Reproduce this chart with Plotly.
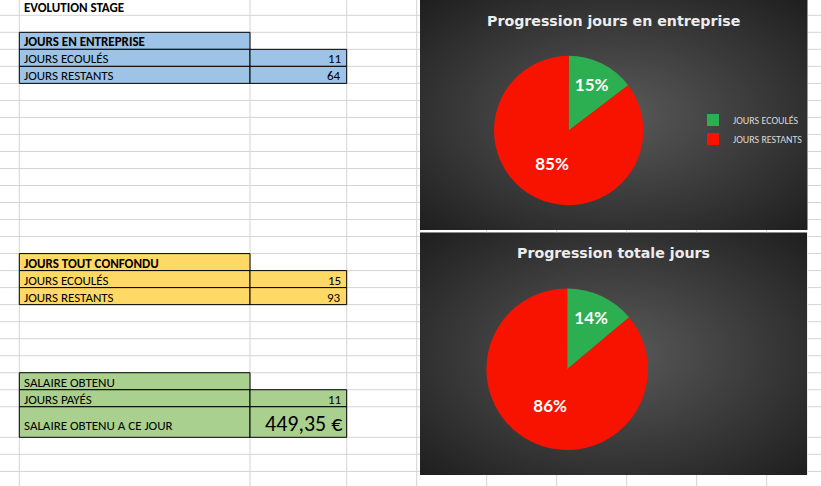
import base64
import plotly.graph_objects as go

W, H = 821, 486

# ---------------- data ----------------
categories = ["JOURS ECOULÉS", "JOURS RESTANTS"]
jours_entreprise = [11, 64]
jours_total = [15, 93]
jours_payes = 11
salaire_obtenu = "449,35 €"
sheet_title = "EVOLUTION STAGE"
table_headers = ["JOURS EN ENTREPRISE", "JOURS TOUT CONFONDU", "SALAIRE OBTENU"]
row_labels_paye = ["JOURS PAYÉS", "SALAIRE OBTENU A CE JOUR"]
chart_titles = ["Progression jours en entreprise", "Progression totale jours"]
slice_colors = ["#2BAF51", "#F81300"]

SHEET_FONT = "Carlito, 'Liberation Sans Narrow', 'Arial Narrow', Lato, sans-serif"
GRID = "#D4D4D4"
FS = 13


def px(x):
    return x / W


def py(y):
    return 1 - y / H


shapes = []
annotations = []
images = []

# chart boxes (pixel coordinates)
C1 = (420, 0, 807.7, 230)
C2 = (420, 232.3, 807.3, 475)

# ---------------- spreadsheet grid ----------------
ROW0, STEP = 15.3, 17.02
row_lines = [ROW0 + STEP * k for k in range(24)] + [437.3, 454.3, 471.4]
col_lines = [19.3, 250, 346.7, 416.7, 486.7, 556.7, 626.7, 696.7, 766.7]


def hline(y, x0, x1, color=GRID, w=1):
    shapes.append(dict(type="line", xref="paper", yref="paper", x0=px(x0), x1=px(x1),
                       y0=py(y), y1=py(y), line=dict(color=color, width=w), layer="below"))


def vline(x, y0, y1, color=GRID, w=1):
    shapes.append(dict(type="line", xref="paper", yref="paper", x0=px(x), x1=px(x),
                       y0=py(y0), y1=py(y1), line=dict(color=color, width=w), layer="below"))


for y in row_lines:
    inside = (C1[1] <= y <= C1[3]) or (C2[1] <= y <= C2[3])
    if inside:
        hline(y, 0, 420)
        hline(y, 808, W)
    else:
        hline(y, 0, W)

for x in col_lines:
    if x < 420:
        vline(x, 0, H)
    else:
        vline(x, C1[3], C2[1])
        vline(x, C2[3], H)

# ---------------- tables ----------------
def cell(x0, y0, x1, y1, fill):
    shapes.append(dict(type="rect", xref="paper", yref="paper", x0=px(x0), x1=px(x1),
                       y0=py(y1), y1=py(y0), fillcolor=fill,
                       line=dict(color="black", width=1), layer="below"))


def text(x, y, s, anchor="left", size=FS, bold=False, color="black", family=SHEET_FONT):
    annotations.append(dict(x=px(x), y=py(y), xref="paper", yref="paper", text=s,
                            showarrow=False, xanchor=anchor, yanchor="middle",
                            font=dict(family=family, size=size, color=color,
                                      weight="bold" if bold else "normal")))


XL, XM, XR = 19.3, 250, 346.7
r = lambda k: ROW0 + STEP * k

text(22, 7.5, sheet_title, bold=True)

BLUE, YEL, GRN = "#9DC3E6", "#FFD966", "#A9D08E"

# table 1
cell(XL, r(1), XM, r(2), BLUE)
cell(XL, r(2), XM, r(3), BLUE); cell(XM, r(2), XR, r(3), BLUE)
cell(XL, r(3), XM, r(4), BLUE); cell(XM, r(3), XR, r(4), BLUE)
text(22, (r(1) + r(2)) / 2 + 1, table_headers[0], bold=True)
text(22, (r(2) + r(3)) / 2 + 1, categories[0])
text(22, (r(3) + r(4)) / 2 + 1, categories[1])
text(343, (r(2) + r(3)) / 2 + 1, str(jours_entreprise[0]), anchor="right")
text(343, (r(3) + r(4)) / 2 + 1, str(jours_entreprise[1]), anchor="right")

# table 2
cell(XL, r(14), XM, r(15), YEL)
cell(XL, r(15), XM, r(16), YEL); cell(XM, r(15), XR, r(16), YEL)
cell(XL, r(16), XM, r(17), YEL); cell(XM, r(16), XR, r(17), YEL)
text(22, (r(14) + r(15)) / 2 + 1, table_headers[1], bold=True)
text(22, (r(15) + r(16)) / 2 + 1, categories[0])
text(22, (r(16) + r(17)) / 2 + 1, categories[1])
text(343, (r(15) + r(16)) / 2 + 1, str(jours_total[0]), anchor="right")
text(343, (r(16) + r(17)) / 2 + 1, str(jours_total[1]), anchor="right")

# table 3
TALL = 437.3
cell(XL, r(21), XM, r(22), GRN)
cell(XL, r(22), XM, r(23), GRN); cell(XM, r(22), XR, r(23), GRN)
cell(XL, r(23), XM, TALL, GRN); cell(XM, r(23), XR, TALL, GRN)
text(22, (r(21) + r(22)) / 2 + 1, table_headers[2])
text(22, (r(22) + r(23)) / 2 + 1, row_labels_paye[0])
text(22, TALL - 12, row_labels_paye[1])
text(343, (r(22) + r(23)) / 2 + 1, str(jours_payes), anchor="right")
text(344, (r(23) + TALL) / 2 + 1, salaire_obtenu, anchor="right", size=22)

# ---------------- chart backgrounds (radial gradient) ----------------
svg = ("<svg xmlns='http://www.w3.org/2000/svg' width='400' height='240' viewBox='0 0 100 100' "
       "preserveAspectRatio='none'><defs><radialGradient id='g' cx='50%' cy='50%' r='71%'>"
       "<stop offset='0' stop-color='#5a5a5a'/><stop offset='1' stop-color='#1e1e1e'/>"
       "</radialGradient></defs><rect width='100' height='100' fill='url(#g)'/></svg>")
src = "data:image/svg+xml;base64," + base64.b64encode(svg.encode()).decode()
for (x0, y0, x1, y1) in (C1, C2):
    images.append(dict(source=src, xref="paper", yref="paper", x=px(x0), y=py(y0),
                       sizex=px(x1) - px(x0), sizey=(y1 - y0) / H, sizing="stretch",
                       xanchor="left", yanchor="top", layer="below"))

# chart titles
TITLE_FONT = "'DejaVu Sans', sans-serif"
text(613.8, 20.7, chart_titles[0], anchor="center", size=14.2, color="#EDEDED",
     family=TITLE_FONT, bold=True)
text(613.5, 253, chart_titles[1], anchor="center", size=14.2, color="#EDEDED",
     family=TITLE_FONT, bold=True)

# ---------------- pies ----------------
def pie(values, cx, cy, rad, legend):
    return go.Pie(
        labels=categories, values=values, sort=False, direction="clockwise", rotation=0,
        marker=dict(colors=slice_colors, line=dict(width=0)),
        texttemplate="%{percent:.0%}", textposition="inside",
        insidetextorientation="horizontal",
        textfont=dict(family="Lato, sans-serif", size=17, color="white", weight="bold"),
        domain=dict(x=[px(cx - rad), px(cx + rad)], y=[py(cy + rad), py(cy - rad)]),
        legend=legend, showlegend=True,
    )


fig = go.Figure([
    pie(jours_entreprise, 568.7, 130.5, 74.7, "legend"),
    pie(jours_total, 567.2, 369.2, 80.8, "legend2"),
])

leg = dict(xref="paper", yref="paper", xanchor="left", yanchor="middle",
           bgcolor="rgba(0,0,0,0)", borderwidth=0,
           font=dict(family=SHEET_FONT, size=10, color="#D9D9D9"))
fig.update_layout(
    width=W, height=H, margin=dict(l=0, r=0, t=0, b=0),
    paper_bgcolor="white", plot_bgcolor="white",
    shapes=shapes, annotations=annotations, images=images,
    legend=dict(leg, x=px(693), y=py(129.4)),
    legend2=dict(leg, x=px(693), y=py(368.2)),
)

fig.write_html("out.html", config={"displayModeBar": False},
               post_script="document.body.style.margin='0';")
